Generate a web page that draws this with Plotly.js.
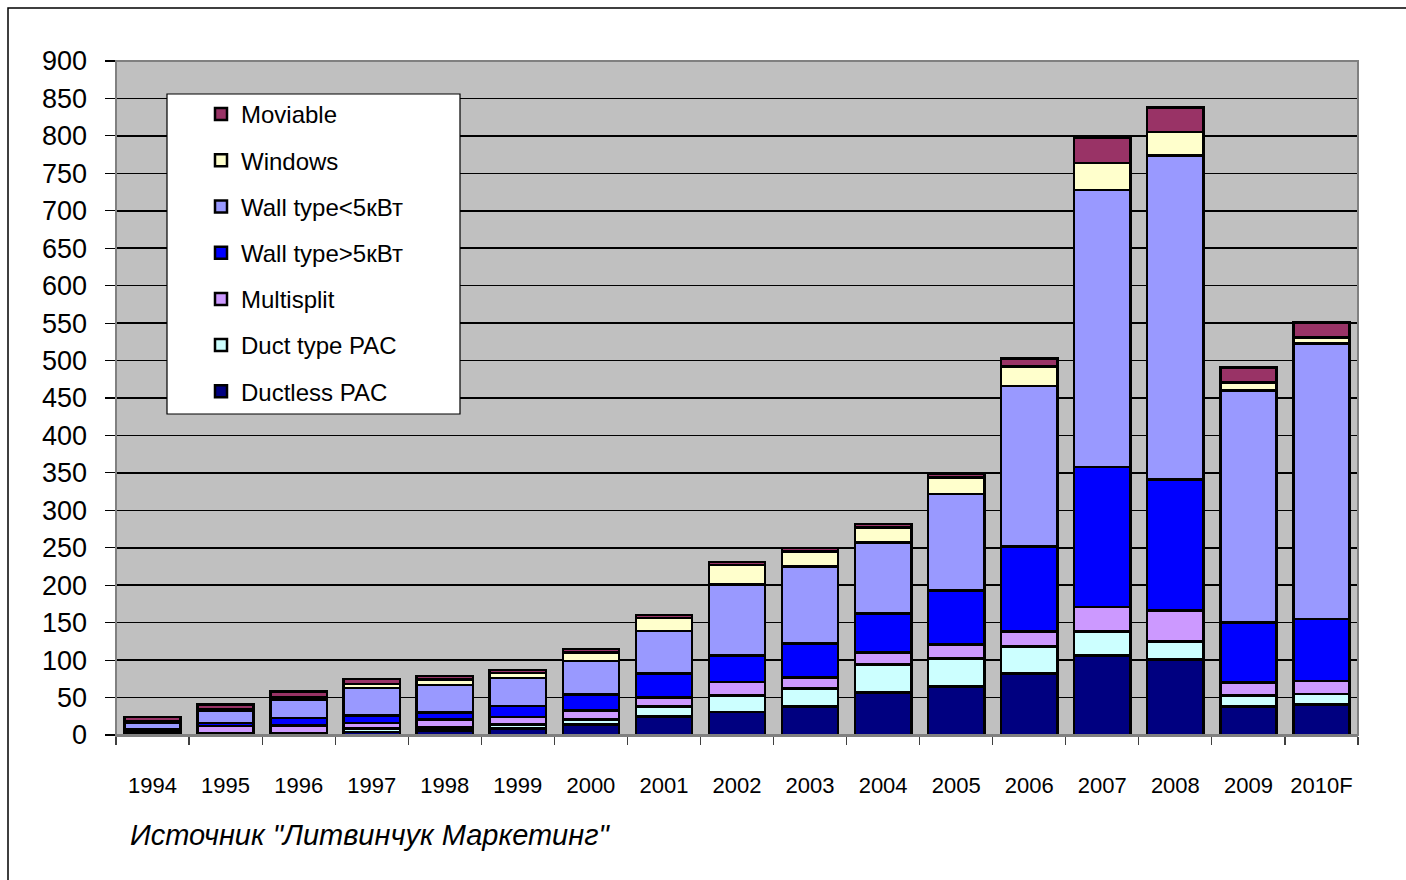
<!DOCTYPE html>
<html>
<head>
<meta charset="utf-8">
<script src="https://cdn.plot.ly/plotly-3.0.1.min.js"></script>
<style>
html,body{margin:0;padding:0;background:#fff;}
#chart{width:1406px;height:880px;}
</style>
</head>
<body>
<div id="chart"></div>
<script>
const years = ["1994","1995","1996","1997","1998","1999","2000","2001","2002","2003","2004","2005","2006","2007","2008","2009","2010F"];
const ductlessPAC = [1, 1, 1, 4, 6, 9, 14, 25, 31, 38, 57, 65, 82, 106, 101, 38, 41];
const ductTypePAC = [1, 2, 2, 5, 4, 5, 7, 13, 22, 24, 37, 37, 36, 32, 24, 15, 14];
const multisplit = [4, 9, 10, 7, 11, 10, 12, 12, 18, 15, 16, 19, 20, 33, 41, 17, 17];
const wallTypeOver5 = [2, 4, 10, 10, 9, 15, 21, 32, 35, 45, 52, 72, 114, 187, 175, 80, 83];
const wallTypeUnder5 = [9, 16, 24, 37, 37, 37, 45, 57, 95, 103, 95, 129, 214, 370, 433, 310, 368];
const windows = [2, 3, 3, 5, 7, 7, 11, 17, 26, 20, 20, 22, 26, 36, 31, 11, 8];
const moviable = [5, 6, 8, 7, 5, 4, 5, 4, 4, 5, 5, 5, 11, 33, 33, 20, 20];

const seriesNames = ["Ductless PAC","Duct type PAC","Multisplit","Wall type>5кВт","Wall type<5кВт","Windows","Moviable"];
const seriesValues = [ductlessPAC, ductTypePAC, multisplit, wallTypeOver5, wallTypeUnder5, windows, moviable];
const seriesColors = ["#000080","#CCFFFF","#CC99FF","#0000FF","#9999FF","#FFFFCC","#993366"];

const traces = seriesNames.map((n, i) => ({
  type: "bar",
  name: n,
  x: years,
  y: seriesValues[i],
  legendgroup: "g" + i,
  legendrank: 100 - i,
  marker: {color: seriesColors[i], line: {color: "#000000", width: 2.5}},
  hoverinfo: "x+y+name"
}));

// plot area px: x 116..1358, y 61..735
const L = 116, R = 1358, T = 61, B = 735;
const W = R - L, H = B - T;
const px = v => (v - L) / W;
const py = v => (B - v) / H;

const layout = {
  width: 1406, height: 880,
  margin: {l: L, r: 1406 - R, t: T, b: 880 - B, pad: 0},
  paper_bgcolor: "#ffffff",
  plot_bgcolor: "#C0C0C0",
  barmode: "stack",
  bargap: 0.23,
  showlegend: true,
  font: {family: "Liberation Sans, Arial, sans-serif", color: "#000000"},
  xaxis: {
    type: "category",
    showgrid: false,
    zeroline: false,
    showline: true,
    linecolor: "#808080",
    linewidth: 1.5,
    ticks: "outside",
    tickson: "boundaries",
    ticklen: 8,
    tickcolor: "#404040",
    tickwidth: 1.2,
    tickangle: 0,
    ticklabelstandoff: 30,
    tickfont: {family: "Liberation Sans, Arial, sans-serif", size: 22, color: "#000000"}
  },
  yaxis: {
    range: [0, 900],
    dtick: 50,
    tick0: 0,
    showgrid: true,
    gridcolor: "#000000",
    gridwidth: 1.5,
    zeroline: false,
    showline: true,
    linecolor: "#000000",
    linewidth: 1.5,
    ticks: "outside",
    ticklen: 10,
    tickcolor: "#000000",
    tickwidth: 1.2,
    ticklabelstandoff: 12,
    tickfont: {family: "Liberation Sans, Arial, sans-serif", size: 27, color: "#000000"}
  },
  legend: {
    x: px(201), y: py(92),
    xanchor: "left", yanchor: "top",
    bgcolor: "rgba(0,0,0,0)",
    borderwidth: 0,
    traceorder: "grouped",
    tracegroupgap: 12,
    font: {family: "Liberation Sans, Arial, sans-serif", size: 24, color: "#000000"}
  },
  shapes: [
    {type: "rect", xref: "paper", yref: "paper", x0: px(8), x1: px(1430), y0: py(900), y1: py(8),
     line: {color: "#000000", width: 1.5}, fillcolor: "rgba(0,0,0,0)", layer: "below"},
    {type: "rect", xref: "paper", yref: "paper", x0: 0, x1: 1, y0: 0, y1: 1,
     line: {color: "#808080", width: 2}, fillcolor: "rgba(0,0,0,0)", layer: "above"},
    {type: "rect", xref: "paper", yref: "paper", x0: px(167), x1: px(460), y0: py(414), y1: py(94),
     line: {color: "#000000", width: 1.2}, fillcolor: "#ffffff", layer: "above"}
  ],
  annotations: [
    {xref: "paper", yref: "paper", x: px(128), y: py(835), xanchor: "left", yanchor: "middle",
     showarrow: false, text: "<i>Источник \"Литвинчук Маркетинг\"</i>",
     font: {family: "Liberation Sans, Arial, sans-serif", size: 29, color: "#000000"}}
  ]
};

Plotly.newPlot("chart", traces, layout, {displayModeBar: false, staticPlot: true});
</script>
</body>
</html>
